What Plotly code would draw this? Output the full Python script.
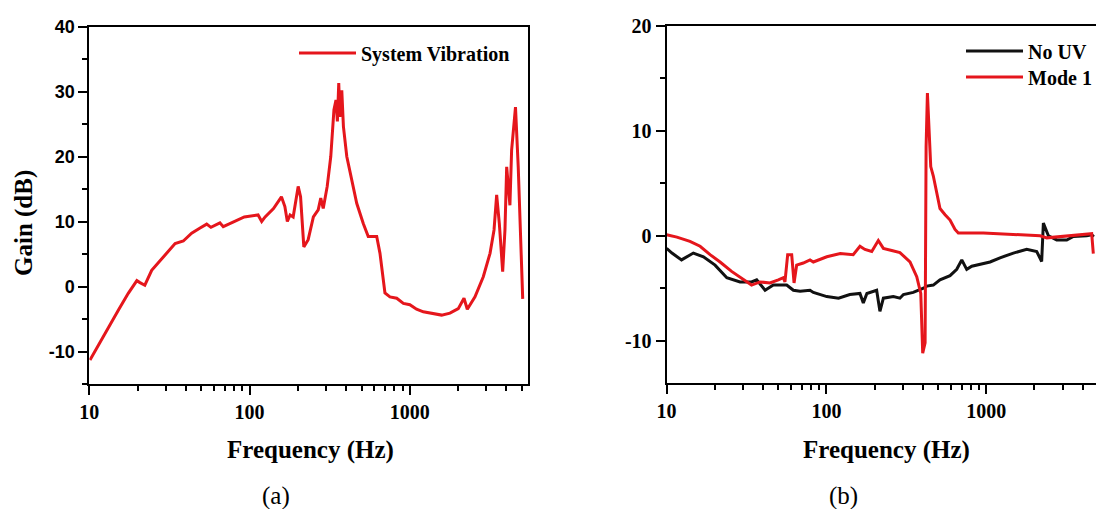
import plotly.graph_objects as go

# ---- Panel (a): System Vibration ----
freq_a = [10.1, 12.5, 15.2, 17.5, 19.8, 20.7, 22.2, 24.5, 26.9, 30.4, 34.3, 38.6, 43.5, 49.1,
          54, 57.4, 62.4, 65.3, 68.5, 77.3, 87, 92.7, 113, 119, 125, 141, 158, 166, 172, 179,
          187, 201, 208, 218, 232, 250, 268, 278, 288, 305, 321, 336, 346, 353, 360, 366,
          376, 385, 404, 434, 466, 512, 550, 621, 651, 699, 751, 828, 911, 1000, 1101, 1213,
          1400, 1578, 1779, 2005, 2176, 2282, 2548, 2871, 3163, 3350, 3479, 3614, 3793, 3920,
          4018, 4150, 4209, 4313, 4526, 4560, 4743, 5058]
gain_a = [-11.3, -7.2, -3.6, -1.05, 0.9, 0.6, 0.2, 2.5, 3.6, 5.1, 6.6, 7.0, 8.2, 9.0,
          9.6, 9.1, 9.5, 9.8, 9.2, 9.8, 10.5, 10.7, 11.0, 10.0, 10.7, 12.0, 13.8, 12.3, 10.0, 11.0,
          10.7, 15.4, 13.8, 6.1, 7.2, 10.7, 11.8, 13.6, 12.0, 15.4, 20.0, 27.2, 28.7, 25.4, 31.3, 26.1,
          30.2, 24.6, 20.0, 16.4, 12.8, 9.7, 7.7, 7.7, 5.1, -1.0, -1.6, -1.8, -2.6, -2.8, -3.5, -3.9,
          -4.2, -4.4, -4.1, -3.4, -1.8, -3.5, -1.6, 1.5, 5.1, 8.7, 14.1, 9.7, 2.3, 8.7,
          18.4, 14.8, 12.5, 21.0, 27.2, 27.6, 18.4, -1.9]

# ---- Panel (b): No UV ----
freq_nouv = [10, 10.8, 12.4, 14.7, 17, 20.1, 23.8, 28.8, 34, 36.6, 41.3, 46.5, 56.4, 62.1,
             68.4, 78.9, 82.8, 100.5, 119, 140, 162, 170, 179, 206, 216, 227, 262, 288, 303,
             349, 404, 424, 466, 513, 593, 653, 702, 754, 811, 914, 1055, 1218, 1476, 1789,
             2066, 2219, 2274, 2445, 2754, 3184, 3503, 4245, 4561, 4700]
gain_nouv = [-1.2, -1.65, -2.3, -1.65, -2.0, -2.8, -4.0, -4.4, -4.4, -4.2, -5.2, -4.7, -4.7, -5.2,
             -5.3, -5.2, -5.4, -5.8, -5.95, -5.6, -5.5, -6.4, -5.5, -5.2, -7.2, -5.95, -5.8, -5.95, -5.6,
             -5.4, -5.0, -4.8, -4.7, -4.2, -3.8, -3.2, -2.3, -3.2, -2.9, -2.7, -2.5, -2.1, -1.65, -1.3,
             -1.5, -2.45, 1.2, 0.0, -0.4, -0.4, -0.07, 0.0, 0.1, -0.1]

# ---- Panel (b): Mode 1 ----
freq_mode1 = [10, 11.6, 14, 16.2, 18.7, 21.6, 25.5, 30.2, 34, 38.4, 44.3, 50, 53.7, 55, 57.2,
              60.6, 62.7, 65.1, 71.6, 78.9, 82.8, 100.5, 122, 147, 162, 174, 192, 211, 227, 256,
              288, 333, 367, 389, 400, 414, 420, 428, 440, 449, 466, 490, 513, 552, 593, 637,
              668, 958, 1549, 2168, 2387, 2893, 3503, 4043, 4561, 4669]
gain_mode1 = [0.1, -0.13, -0.54, -1.0, -1.8, -2.5, -3.4, -4.2, -4.7, -4.4, -4.5, -4.2, -4.0, -4.4, -1.8,
              -1.8, -4.5, -2.8, -2.6, -2.3, -2.5, -2.0, -1.7, -1.8, -1.0, -1.3, -1.5, -0.45, -1.2, -1.4,
              -1.6, -2.5, -3.9, -5.5, -11.2, -10.2, 8.5, 13.6, 10.1, 6.6, 5.7, 4.1, 2.6, 2.0, 1.5, 0.6,
              0.26, 0.26, 0.1, 0.0, -0.2, -0.1, 0.0, 0.1, 0.2, -1.7]

x_tickvals = [10, 100, 1000]
x_ticktext = ["10", "100", "1000"]
y_ticks_a = [-10, 0, 10, 20, 30, 40]
y_ticktext_a = ["-10", "0", "10", "20", "30", "40"]
y_ticks_b = [-10, 0, 10, 20]
y_ticktext_b = ["-10", "0", "10", "20"]

RED = "#e5161c"
BLACK = "#111111"
SERIF = "Liberation Serif, Times New Roman, serif"
SANS = "Liberation Sans, Arial, sans-serif"
W, H = 1096, 509

minor_x = [m * d for d in (10, 100, 1000) for m in range(2, 10)]

fig = go.Figure()
fig.add_trace(go.Scatter(x=freq_a, y=gain_a, mode="lines", name="System Vibration",
                         line=dict(color=RED, width=3), xaxis="x", yaxis="y", legend="legend"))
fig.add_trace(go.Scatter(x=freq_nouv, y=gain_nouv, mode="lines", name="No UV",
                         line=dict(color=BLACK, width=3), xaxis="x2", yaxis="y2", legend="legend2"))
fig.add_trace(go.Scatter(x=freq_mode1, y=gain_mode1, mode="lines", name="Mode 1",
                         line=dict(color=RED, width=3), xaxis="x2", yaxis="y2", legend="legend3"))


def xaxis_common(domain, rng, anchor):
    return dict(type="log", domain=domain, range=rng, anchor=anchor, automargin=False,
                showline=True, linecolor="black", linewidth=2, mirror=True,
                ticks="outside", ticklen=9, tickwidth=2, tickcolor="black",
                tickmode="array", tickvals=x_tickvals, ticktext=x_ticktext,
                tickfont=dict(family=SERIF, size=20, color="black", weight="bold"),
                minor=dict(tickmode="array", tickvals=minor_x, ticks="outside",
                           ticklen=5, tickwidth=2, tickcolor="black"),
                showgrid=False, zeroline=False)


legend_font = dict(family=SERIF, size=20, color="black", weight="bold")


def legend_at(px, py):
    return dict(x=px / W, y=1 - py / H, xanchor="left", yanchor="middle", itemwidth=57,
                bgcolor="rgba(0,0,0,0)", borderwidth=0, font=legend_font)


fig.update_layout(
    width=W, height=H,
    margin=dict(l=0, r=0, t=0, b=0, autoexpand=False),
    paper_bgcolor="white", plot_bgcolor="white",
    xaxis=xaxis_common([89.3 / W, 528 / W], [1, 3.737], "y"),
    yaxis=dict(domain=[1 - 384 / H, 1 - 26.5 / H], range=[-15, 40], anchor="x", automargin=False,
               showline=True, linecolor="black", linewidth=2, mirror=True,
               ticks="outside", ticklen=9, tickwidth=2, tickcolor="black",
               tickmode="array", tickvals=y_ticks_a, ticktext=y_ticktext_a,
               tickfont=dict(family=SANS, size=18, color="black", weight="bold"),
               minor=dict(dtick=5, ticks="outside", ticklen=5, tickwidth=2, tickcolor="black"),
               showgrid=False, zeroline=False),
    xaxis2=xaxis_common([666.6 / W, 1.0], [1, 3.686], "y2"),
    yaxis2=dict(domain=[1 - 382.6 / H, 1 - 26 / H], range=[-14, 20], anchor="x2", automargin=False,
                showline=True, linecolor="black", linewidth=2, mirror=False,
                ticks="outside", ticklen=9, tickwidth=2, tickcolor="black",
                tickmode="array", tickvals=y_ticks_b, ticktext=y_ticktext_b,
                tickfont=dict(family=SERIF, size=20, color="black", weight="bold"),
                minor=dict(dtick=5, ticks="outside", ticklen=5, tickwidth=2, tickcolor="black"),
                showgrid=False, zeroline=False),
    legend=legend_at(294, 53),
    legend2=legend_at(961, 51),
    legend3=legend_at(961, 77),
    showlegend=True,
)

ann_font = dict(family=SERIF, size=25, color="black", weight="bold")
annotations = [
    dict(text="Gain (dB)", x=24 / W, y=1 - 223 / H, textangle=-90, font=ann_font),
    dict(text="Frequency (Hz)", x=310 / W, y=1 - 450 / H, font=ann_font),
    dict(text="Frequency (Hz)", x=886 / W, y=1 - 450 / H, font=ann_font),
    dict(text="(a)", x=275.5 / W, y=1 - 496 / H, font=dict(family=SERIF, size=25, color="black")),
    dict(text="(b)", x=843.5 / W, y=1 - 496 / H, font=dict(family=SERIF, size=25, color="black")),
]
for a in annotations:
    a.update(xref="paper", yref="paper", xanchor="center", yanchor="middle", showarrow=False)
fig.update_layout(annotations=annotations)

fig.write_html("out.html", config={"displayModeBar": False},
               post_script="document.body.style.margin='0px';")
